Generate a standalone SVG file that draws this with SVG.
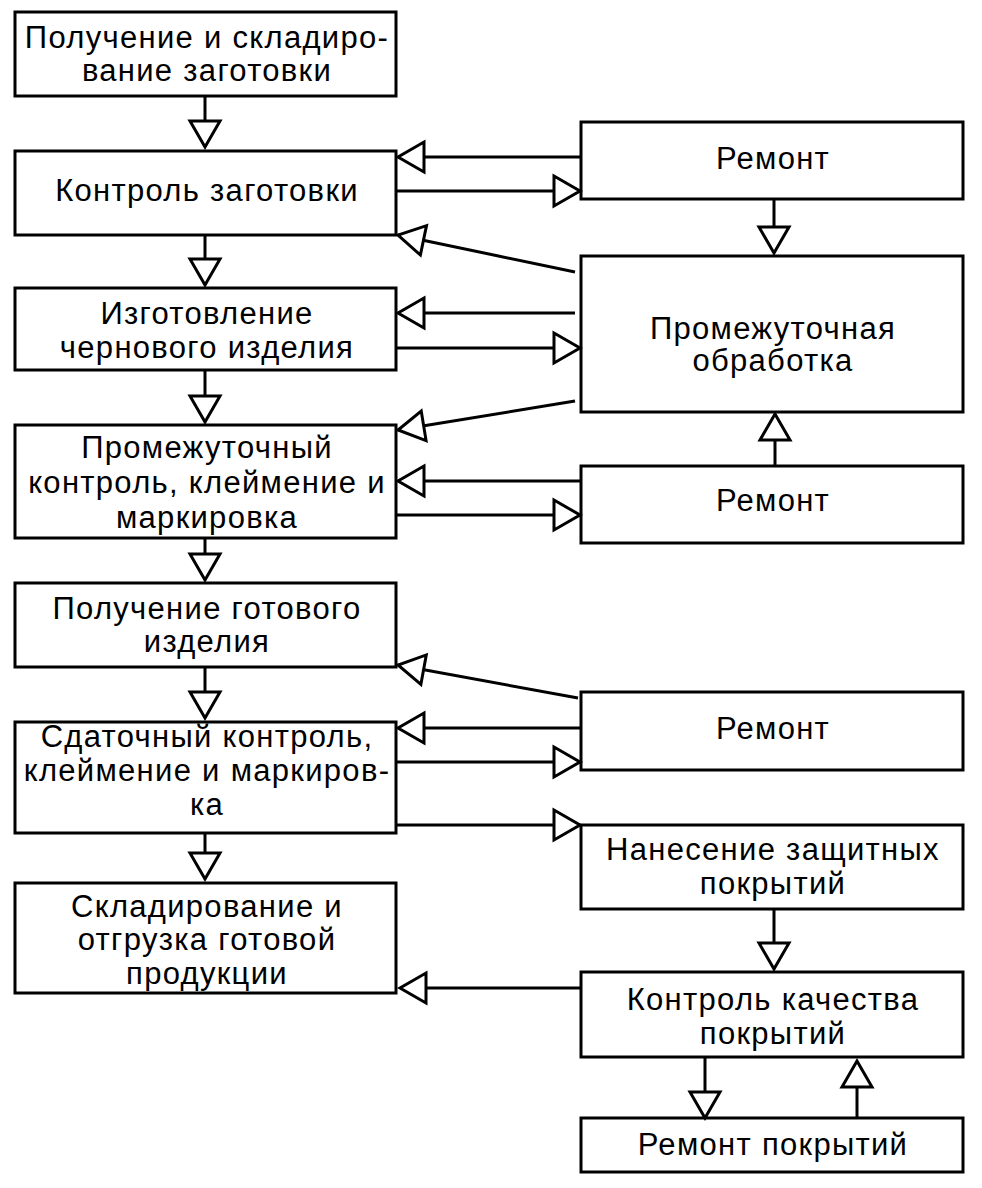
<svg xmlns="http://www.w3.org/2000/svg" width="982" height="1188" viewBox="0 0 982 1188">
<style>
.box{fill:#fff;stroke:#000;stroke-width:3}
.t{font-family:"Liberation Sans",Arial,Helvetica,sans-serif;font-size:31px;letter-spacing:1.3px;fill:#000;text-anchor:middle}
.c{fill:none;stroke:#000;stroke-width:3;marker-end:url(#a)}
</style>
<defs>
<marker id="a" viewBox="-3 -18 32 36" refX="26" refY="0" markerWidth="32" markerHeight="36" markerUnits="userSpaceOnUse" orient="auto">
<path d="M0,-15 L26,0 L0,15 Z" fill="#fff" stroke="#000" stroke-width="3"/>
</marker>
</defs>
<rect width="982" height="1188" fill="#fff"/>
<g id="b1"><rect class="box" x="15" y="12" width="381" height="84"/><text class="t" x="207" y="48">Получение и складиро-</text><text class="t" x="207" y="81">вание заготовки</text></g>
<g id="b2"><rect class="box" x="15" y="151" width="381" height="84"/><text class="t" x="207" y="201">Контроль заготовки</text></g>
<g id="b3"><rect class="box" x="15" y="288" width="381" height="82"/><text class="t" x="207" y="324">Изготовление</text><text class="t" x="207" y="358">чернового изделия</text></g>
<g id="b4"><rect class="box" x="15" y="425" width="381" height="113"/><text class="t" x="207" y="458">Промежуточный</text><text class="t" x="207" y="493">контроль, клеймение и</text><text class="t" x="207" y="528">маркировка</text></g>
<g id="b5"><rect class="box" x="15" y="583" width="381" height="84"/><text class="t" x="207" y="619">Получение готового</text><text class="t" x="207" y="652">изделия</text></g>
<g id="b6"><rect class="box" x="15" y="722" width="381" height="111"/><text class="t" x="207" y="747">Сдаточный контроль,</text><text class="t" x="207" y="781">клеймение и маркиров-</text><text class="t" x="207" y="815">ка</text></g>
<g id="b7"><rect class="box" x="15" y="883" width="381" height="110"/><text class="t" x="207" y="917">Складирование и</text><text class="t" x="207" y="950">отгрузка готовой</text><text class="t" x="207" y="984">продукции</text></g>
<g id="r1"><rect class="box" x="581" y="122" width="382" height="77"/><text class="t" x="773" y="169">Ремонт</text></g>
<g id="r2"><rect class="box" x="581" y="256" width="382" height="156"/><text class="t" x="773" y="339">Промежуточная</text><text class="t" x="773" y="371">обработка</text></g>
<g id="r3"><rect class="box" x="581" y="466" width="382" height="77"/><text class="t" x="773" y="511">Ремонт</text></g>
<g id="r4"><rect class="box" x="581" y="692" width="382" height="78"/><text class="t" x="773" y="739">Ремонт</text></g>
<g id="r5"><rect class="box" x="581" y="825" width="382" height="84"/><text class="t" x="773" y="860">Нанесение защитных</text><text class="t" x="773" y="894">покрытий</text></g>
<g id="r6"><rect class="box" x="581" y="972" width="382" height="85"/><text class="t" x="773" y="1010">Контроль качества</text><text class="t" x="773" y="1044">покрытий</text></g>
<g id="r7"><rect class="box" x="581" y="1118" width="382" height="54"/><text class="t" x="773" y="1155">Ремонт покрытий</text></g>
<g id="connectors">
<line class="c" x1="205" y1="96" x2="205" y2="147"/>
<line class="c" x1="205" y1="235" x2="205" y2="285"/>
<line class="c" x1="205" y1="370" x2="205" y2="422"/>
<line class="c" x1="205" y1="538" x2="205" y2="580"/>
<line class="c" x1="205" y1="667" x2="205" y2="718"/>
<line class="c" x1="205" y1="833" x2="205" y2="879"/>
<line class="c" x1="580" y1="157" x2="398" y2="157"/>
<line class="c" x1="397" y1="191" x2="580" y2="191"/>
<line class="c" x1="774" y1="199" x2="774" y2="253"/>
<line class="c" x1="575" y1="272" x2="398" y2="235"/>
<line class="c" x1="575" y1="313" x2="398" y2="313"/>
<line class="c" x1="397" y1="348" x2="580" y2="348"/>
<line class="c" x1="575" y1="401" x2="398" y2="430"/>
<line class="c" x1="775" y1="466" x2="775" y2="414"/>
<line class="c" x1="580" y1="481" x2="398" y2="481"/>
<line class="c" x1="397" y1="515" x2="580" y2="515"/>
<line class="c" x1="578" y1="698" x2="398" y2="665"/>
<line class="c" x1="580" y1="728" x2="398" y2="728"/>
<line class="c" x1="397" y1="762" x2="580" y2="762"/>
<line class="c" x1="397" y1="825" x2="580" y2="825"/>
<line class="c" x1="774" y1="909" x2="774" y2="969"/>
<line class="c" x1="580" y1="988" x2="400" y2="988"/>
<line class="c" x1="705" y1="1057" x2="705" y2="1118"/>
<line class="c" x1="857" y1="1118" x2="857" y2="1061"/>
</g>
</svg>
